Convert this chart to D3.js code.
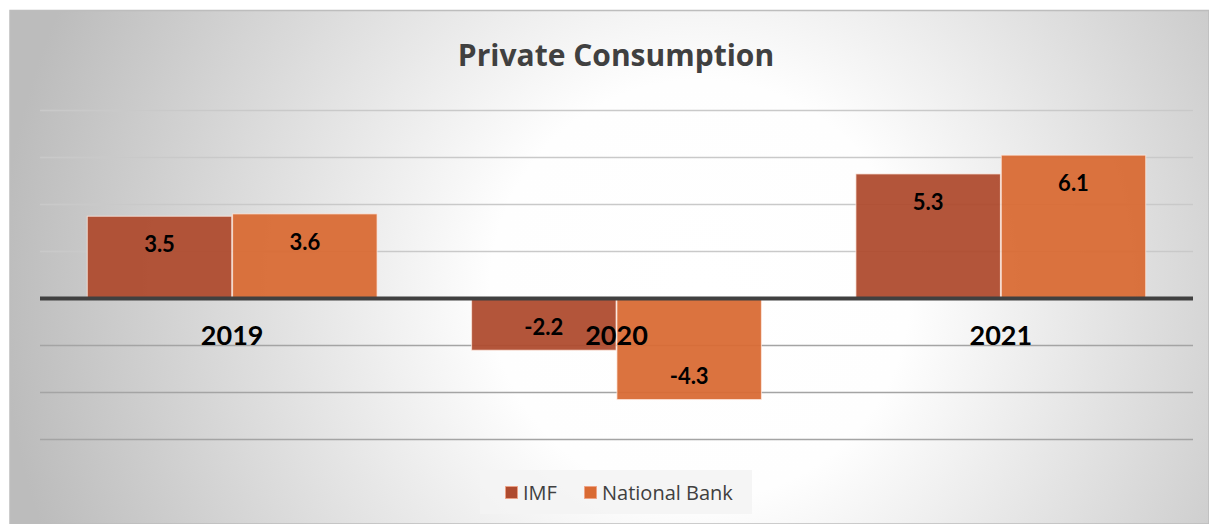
<!DOCTYPE html>
<html>
<head>
<meta charset="utf-8">
<script src="https://cdn.jsdelivr.net/npm/d3@7"></script>
<style>
  html, body { margin: 0; padding: 0; background: #ffffff; }
  svg { display: block; }
  text { font-family: Lato, "Open Sans", sans-serif; }
</style>
</head>
<body>
<svg id="chart" width="1209" height="524"></svg>
<script>
// Private consumption growth, % — two forecasts per year
const years = ["2019", "2020", "2021"];
const seriesNames = ["IMF", "National Bank"];
const imfValues = [3.5, -2.2, 5.3];
const nationalBankValues = [3.6, -4.3, 6.1];
const yTicks = [-6, -4, -2, 0, 2, 4, 6, 8];

const seriesColors = { "IMF": "#ae4a2e", "National Bank": "#d96a33" };

const W = 1209, H = 524;
const plot = { left: 40, right: 1193, top: 110.5, bottom: 439.5 };

const rows = years.map((yr, i) => ({
  year: yr,
  values: [
    { key: "IMF", value: imfValues[i] },
    { key: "National Bank", value: nationalBankValues[i] }
  ]
}));

// Plain hyphen for negative numbers
const fmt = d3.formatLocale({ decimal: ".", thousands: ",", grouping: [3], currency: ["", ""], minus: "-" }).format(".1f");

const svg = d3.select("#chart");
const defs = svg.append("defs");

// Soft radial backdrop of the chart frame
const bg = defs.append("radialGradient")
  .attr("id", "bgGrad")
  .attr("gradientUnits", "userSpaceOnUse")
  .attr("cx", 700).attr("cy", 290).attr("r", 700);
bg.append("stop").attr("offset", "0%").attr("stop-color", "#ffffff");
bg.append("stop").attr("offset", "30%").attr("stop-color", "#fefefe");
bg.append("stop").attr("offset", "100%").attr("stop-color", "#bcbcbc");

svg.append("rect")
  .attr("x", 10).attr("y", 10.5)
  .attr("width", W - 10).attr("height", H - 10.5)
  .attr("fill", "url(#bgGrad)")
  .attr("stroke", "#bdbdbd")
  .attr("stroke-width", 1.5);

// Scales
const y = d3.scaleLinear().domain([-6, 8]).range([plot.bottom, plot.top]);
const x0 = d3.scaleBand().domain(years).range([plot.left, plot.right]).padding(0);
const groupPad = x0.bandwidth() * 0.123;
const x1 = d3.scaleBand().domain(seriesNames)
  .range([groupPad, x0.bandwidth() - groupPad])
  .paddingInner(0.006);

// Horizontal gridlines
svg.append("g").selectAll("line")
  .data(yTicks.filter(t => t !== 0))
  .join("line")
  .attr("x1", plot.left).attr("x2", plot.right)
  .attr("y1", d => y(d)).attr("y2", d => y(d))
  .attr("stroke", d => d > 0 ? "#c9c9c9" : "#a4a4a4")
  .attr("stroke-width", 1.5);

// Bars
const groups = svg.append("g").selectAll("g")
  .data(rows)
  .join("g")
  .attr("transform", d => `translate(${x0(d.year)},0)`);

groups.selectAll("rect")
  .data(d => d.values)
  .join("rect")
  .attr("x", d => x1(d.key))
  .attr("width", x1.bandwidth())
  .attr("y", d => y(Math.max(0, d.value)))
  .attr("height", d => Math.abs(y(d.value) - y(0)))
  .attr("fill", d => seriesColors[d.key])
  .attr("fill-opacity", 0.94)
  .attr("stroke", "rgba(255,235,225,0.75)")
  .attr("stroke-width", 1);

// Zero baseline
svg.append("line")
  .attr("x1", plot.left).attr("x2", plot.right)
  .attr("y1", y(0)).attr("y2", y(0))
  .attr("stroke", "#404040")
  .attr("stroke-width", 4);

// Category labels on the zero axis
const xAxis = d3.axisBottom(x0).tickSize(0).tickPadding(0);
const axisG = svg.append("g")
  .attr("transform", `translate(0,${y(0)})`)
  .call(xAxis);
axisG.select(".domain").remove();
axisG.selectAll("text")
  .attr("y", 37)
  .attr("dy", "0.35em")
  .attr("fill", "#000000")
  .style("font-family", "Lato, sans-serif")
  .style("font-size", "27px")
  .style("font-weight", "700");

// Value labels inside the bar ends
groups.selectAll("text.val")
  .data(d => d.values)
  .join("text")
  .attr("class", "val")
  .attr("x", d => x1(d.key) + x1.bandwidth() / 2)
  .attr("y", d => d.value >= 0 ? y(d.value) + 28 : y(d.value) - 23)
  .attr("dy", "0.35em")
  .attr("text-anchor", "middle")
  .attr("fill", "#000000")
  .style("font-size", "22px")
  .style("font-weight", "700")
  .text(d => fmt(d.value));

// Title
svg.append("text")
  .attr("x", 616).attr("y", 55)
  .attr("dy", "0.35em")
  .attr("text-anchor", "middle")
  .attr("fill", "#404040")
  .style("font-family", "'Open Sans', sans-serif")
  .style("font-size", "30px")
  .style("font-weight", "700")
  .text("Private Consumption");

// Legend
const legend = svg.append("g");
legend.append("rect")
  .attr("x", 480).attr("y", 470)
  .attr("width", 272).attr("height", 44)
  .attr("fill", "#f3f3f3")
  .attr("fill-opacity", 0.85);

const legendX = { "IMF": 505, "National Bank": 584 };
const items = legend.selectAll("g.item")
  .data(seriesNames)
  .join("g")
  .attr("class", "item")
  .attr("transform", d => `translate(${legendX[d]},486)`);
items.append("rect")
  .attr("x", 0.5).attr("y", 0.5)
  .attr("width", 12).attr("height", 12)
  .attr("fill", d => seriesColors[d])
  .attr("stroke", "rgba(240,160,130,0.8)")
  .attr("stroke-width", 1);
items.append("text")
  .attr("x", 18).attr("y", 6.5)
  .attr("dy", "0.35em")
  .attr("fill", "#404040")
  .style("font-family", "'Open Sans', sans-serif")
  .style("font-size", "20px")
  .text(d => d);
</script>
</body>
</html>
